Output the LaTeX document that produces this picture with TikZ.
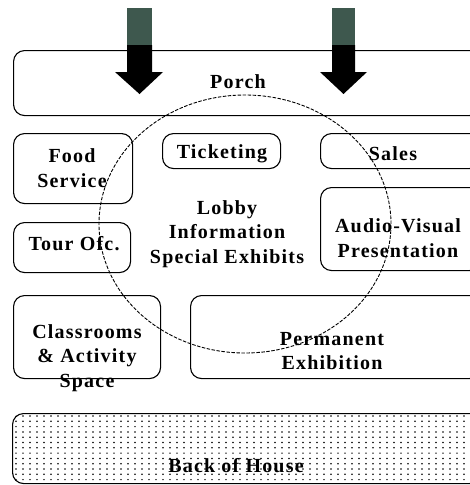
\documentclass[tikz,border=0pt]{standalone}
\usepackage{fontspec}
\setmainfont{Liberation Serif}
\newfontfamily\lblfont[LetterSpace=6]{Liberation Serif}
\definecolor{shaftgreen}{RGB}{62,88,78}
\begin{document}
\begin{tikzpicture}[x=1pt,y=-1pt,
  box/.style={draw, line width=1.1pt, rounded corners=11pt, inner sep=0pt, anchor=north west},
  lbl/.style={font=\lblfont\bfseries\fontsize{20}{24.5}\selectfont, align=center, inner sep=0pt},
  lobbyline/.style={draw, line width=0.9pt, dash pattern=on 3.5pt off 1.5pt}]
\useasboundingbox (0,0) rectangle (470,485);
\begin{scope}
\clip (0,0) rectangle (470,485);
% boxes
\node[box, minimum width=467pt, minimum height=65pt] (porch) at (13,50) {};
\node[box, minimum width=119pt, minimum height=70pt] (food) at (13,133) {};
\node[box, minimum width=118pt, minimum height=35pt] (tick) at (162,133) {};
\node[box, minimum width=160pt, minimum height=35pt] (sales) at (320,133) {};
\node[box, minimum width=160pt, minimum height=83pt] (av) at (320,187) {};
\node[box, minimum width=117pt, minimum height=50pt] (tour) at (13,222) {};
\node[box, minimum width=147pt, minimum height=83pt] (class) at (13,295) {};
\node[box, minimum width=290pt, minimum height=83pt] (perm) at (190,295) {};
% back of house dots
\begin{scope}
\clip[rounded corners=11pt] (12,413) rectangle (480,483);
\foreach \i in {0,...,67} {
  \foreach \j in {0,...,13} {
    \fill ({16+\i*7},{416+\j*5.3}) circle[radius=0.85pt];
  }
}
\end{scope}
\node[box, minimum width=468pt, minimum height=70pt] (back) at (12,413) {};
% lobby ellipse
\draw[lobbyline] (245,224) ellipse [x radius=146pt, y radius=129pt];
% arrows
\fill[shaftgreen] (127,8) rectangle (152,46);
\fill[black] (127,45) -- (152,45) -- (152,72) -- (163,72) -- (139.5,94) -- (115,72) -- (127,72) -- cycle;
\fill[shaftgreen] (332,8) rectangle (355,46);
\fill[black] (332,45) -- (355,45) -- (355,72) -- (367,72) -- (343.5,94) -- (320,72) -- (332,72) -- cycle;
\end{scope}
% labels
\node[lbl] (porchT) at (238,82) {Porch};
\node[lbl] (foodT) at (72,168) {Food\\Service};
\node[lbl] (tickT) at (222,154) {Ticketing};
\node[lbl] (salesT) at (393,154) {Sales};
\node[lbl] (lobbyT) at (227,234) {Lobby\\Information\\Special Exhibits};
\node[lbl] (avT) at (398,238) {Audio-Visual\\Presentation};
\node[lbl] (tourT) at (74,244) {Tour Ofc.};
\node[lbl] (classT) at (87,358) {Classrooms\\\& Activity\\Space};
\node[lbl] (permT) at (332,351) {Permanent\\Exhibition};
\node[lbl] (backT) at (236,466) {Back of House};
\end{tikzpicture}
\end{document}
